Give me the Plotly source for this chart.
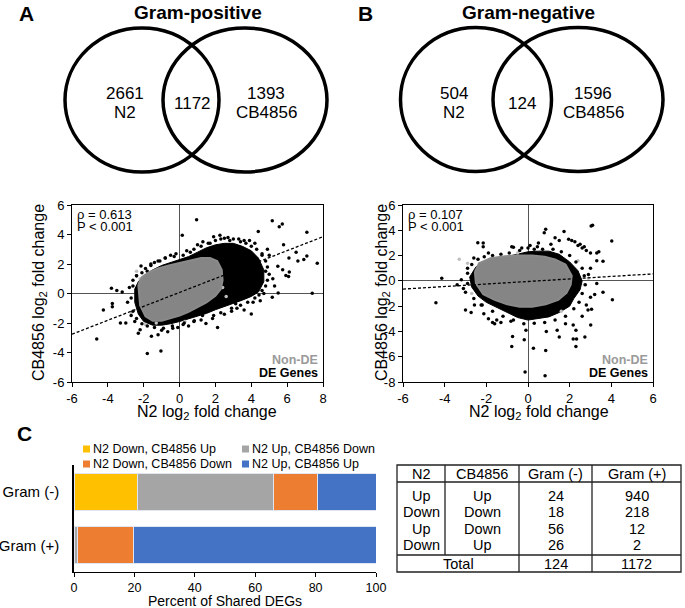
import plotly.graph_objects as go

W, H = 685, 608
FONT = "Liberation Sans, Arial, Helvetica, sans-serif"

# ---------------- data ----------------
# Venn diagrams
venn_panels = ["A", "B"]
venn_titles = ["Gram-positive", "Gram-negative"]
venn_n2_only = [2661, 504]
venn_shared = [1172, 124]
venn_cb_only = [1393, 1596]

# Scatter A (Gram-positive)
a_rho, a_p = "0.613", "P < 0.001"
a_de_cloud_x = [-2.5, -2.3, -2.0, -1.5, -1.0, -0.5, 0.0, 0.5, 1.0, 1.5, 2.0, 2.5, 3.0, 3.5, 4.0, 4.4, 4.7, 4.7, 4.4, 4.0, 3.5, 3.0, 2.5, 2.0, 1.5, 1.0, 0.5, 0.0, -0.5, -1.0, -1.5, -2.0, -2.3, -2.5]
a_de_cloud_y = [0.3, 0.8, 1.2, 1.6, 1.9, 2.1, 2.3, 2.5, 2.8, 3.1, 3.3, 3.4, 3.4, 3.2, 2.9, 2.4, 1.6, 0.8, 0.1, -0.2, -0.45, -0.65, -0.9, -1.1, -1.35, -1.55, -1.75, -1.9, -2.05, -2.15, -2.15, -1.9, -1.4, -0.6]
a_non_cloud_x = [-2.3, -2.1, -1.7, -1.2, -0.6, 0.0, 0.6, 1.2, 1.7, 2.1, 2.35, 2.4, 2.3, 2.0, 1.5, 1.0, 0.5, 0.0, -0.5, -1.0, -1.5, -1.9, -2.2]
a_non_cloud_y = [0.6, 1.1, 1.45, 1.7, 1.9, 2.05, 2.2, 2.4, 2.4, 2.2, 1.6, 0.9, 0.3, -0.15, -0.6, -0.95, -1.25, -1.5, -1.7, -1.85, -1.85, -1.55, -0.8]
a_de_x = [0.95, 5.17, 5.73, 5.56, 7.1, 4.39, 7.68, 6.93, 6.6, 7.1, 6.1, 5.48, 5.75, 6.12, 5.93, 6.08, 7.4, 5.5, -2.15, -3.8, -3.5, -3.2, 0.15, 2.25, 1.9, 2.5,
          -4.62, -1.8, -1.04, -4.25, -3.75, -3.75, -3.3, -3.0, -2.2, -2.3, -1.57, -1.2, -0.66, -0.38, 0.26, 0.82, 1.28, 1.84, 2.12, 1.47, 3.6, 4.0, 2.76, 3.13,
          4.43, 4.7, 5.17, 4.9, 5.0, 4.8, 4.9, 5.2, 3.3, 2.8, 1.2, 0.6, -0.3, -1.2, -1.8, -2.6, -2.8, -2.9, -2.7, -2.5, 0.5, -0.1, 2.5, 3.2, 4.5, 5.8, 6.5, 3.9, -1.0,
          4.2, 4.6, 3.6, 1.6, -0.8, -1.6, -2.4, 2.9, 4.1, 5.3,
          -2.6, -2.4, -2.1, -1.9, -1.6, -1.4, -1.1, -0.8, -0.5, -0.2, 0.2, 0.4, 0.8, 1.0, 1.3, 1.7, 2.0, 2.3, 2.7, 3.0, 3.4, 3.7, 4.0, 4.3, 4.6, 4.8,
          4.9, 5.0, 4.8, 4.6, 4.2, 3.8, 3.4, 2.9, 2.3, 1.9, 1.2, 0.8, 0.2, -0.4, -0.9, -1.4, -1.8, -2.1, -2.4, -2.6, -2.7]
a_de_y = [5.0, 4.94, 4.71, 4.53, 4.15, 4.2, 2.05, 2.3, 2.2, 2.55, 2.4, 1.84, 1.61, 1.45, 1.22, 1.16, 0.02, 0.03, 1.86, 0.35, 0.2, 0.1, 3.95, 3.95, 3.85, 3.75,
          -3.08, -4.06, -3.9, -1.12, -0.67, -0.9, -2.0, -2.0, -2.45, -2.7, -2.9, -2.8, -2.6, -2.35, -2.0, -1.85, -1.5, -1.7, -2.3, -2.03, -1.12, -1.39, -0.45, -0.7,
          -0.1, 0.0, -0.25, 3.0, 2.6, 1.5, 0.9, 1.0, 3.7, 3.6, 3.2, 2.8, 2.5, 2.2, 1.5, 0.9, 0.4, -0.6, -1.5, -1.9, -2.2, -2.3, -1.4, -1.0, -0.5, 3.3, 2.8, 3.6, -2.5,
          3.4, 2.7, 3.6, 3.4, 2.4, 2.0, 1.2, -1.2, -0.6, 0.5,
          0.5, 1.2, 1.4, 1.7, 1.9, 2.1, 2.2, 2.4, 2.6, 2.7, 2.6, 2.9, 3.0, 3.3, 3.5, 3.4, 3.6, 3.7, 3.8, 3.7, 3.5, 3.4, 3.2, 3.0, 2.6, 2.2,
          1.8, 1.3, 0.5, 0.2, -0.3, -0.6, -0.8, -1.0, -1.3, -1.5, -1.8, -1.9, -2.1, -2.2, -2.35, -2.3, -2.2, -2.05, -1.7, -1.2, -0.3]
a_light_x = [-2.4, -2.7, -1.9, -2.2, 2.4, 2.6, -1.3, 0.3]
a_light_y = [1.5, -1.3, -2.1, 1.0, 0.4, -0.2, -2.0, -1.9]
a_fit_x = [-6, 8]
a_fit_y = [-2.76, 3.85]

# Scatter B (Gram-negative)
b_rho, b_p = "0.107", "P < 0.001"
b_de_cloud_x = [-2.8, -2.5, -2.0, -1.5, -1.0, -0.5, 0.0, 0.5, 1.0, 1.5, 2.0, 2.4, 2.6, 2.5, 2.2, 2.0, 1.5, 1.0, 0.5, 0.0, -0.5, -1.0, -1.5, -2.0, -2.4, -2.7]
b_de_cloud_y = [0.3, 1.1, 1.55, 1.75, 1.9, 2.1, 2.3, 2.35, 2.35, 2.1, 1.5, 0.8, 0.0, -0.7, -1.4, -2.0, -2.5, -2.85, -3.0, -3.1, -2.9, -2.5, -2.1, -1.7, -1.2, -0.5]
b_non_cloud_x = [-2.55, -2.35, -1.8, -1.1, -0.5, 0.2, 0.8, 1.3, 1.8, 2.1, 2.05, 1.85, 1.45, 0.85, 0.2, -0.4, -1.0, -1.6, -2.15, -2.5]
b_non_cloud_y = [0.7, 1.4, 1.8, 1.95, 2.0, 2.0, 1.9, 1.7, 1.3, 0.4, -0.3, -0.95, -1.5, -1.85, -2.05, -2.05, -1.85, -1.5, -1.05, -0.2]
b_de_x = [3.03, 3.1, 4.02, 0.85, 0.78, 1.73, 1.3, 1.5, 1.95, 2.1, 2.25, 2.4, 2.5, 2.7, 2.8, 2.6, 3.0, 3.4, 3.3, -2.41, -2.15, -2.15, -4.14, -3.2, -0.78, -0.7,
          0.5, 0.45, -4.42, -3.0, -2.73, -2.57, -2.25, -2.12, -1.3, -0.82, -0.74, -0.18, -0.1, -0.78, -0.14, 0.26, 0.85, 0.82, 1.5, 2.17, 2.33, 2.73, 2.3,
          3.01, 3.2, 3.6, 4.05, 3.05, 2.6, 2.88, 2.3, 2.17, 1.4, 0.88, 1.8, -1.9, -1.7, -1.5, -1.6, 3.6, 3.3, 3.0, 2.9, 3.3, 3.0, 2.8,
          -3.4, -3.1, -2.9, 0.1, -0.3, 1.1, -1.9, -2.6,
          -2.9, -2.9, -3.0, -2.7, -2.4, -2.1, -1.7, -1.3, -0.9, -0.4, 0.0, 0.3, 0.7, 1.2, 1.6, 2.0, 2.3, 2.6, 2.7, 2.75, 2.6, 2.45, 2.2,
          1.8, 1.3, 0.8, 0.3, -0.2, -0.7, -1.2, -1.7, -2.2, -2.6]
b_de_y = [4.34, 4.4, 3.15, 4.08, 3.81, 3.9, 3.4, 3.2, 3.3, 3.2, 3.1, 2.8, 2.9, 2.7, 2.4, 2.6, 2.2, 2.3, 2.2, 3.02, 3.0, 2.7, 0.2, 0.08, 2.7, 2.65,
          3.0, 2.7, -1.73, -2.3, -2.5, -1.9, -1.9, -2.6, -3.3, -3.2, -4.4, -4.65, -3.9, -5.2, -7.2, -5.34, -5.5, -7.5, -4.45, -4.6, -4.6, -4.45, -5.2,
          -3.5, -1.07, -0.9, -1.5, -2.25, -2.8, -2.3, -3.9, -3.5, -3.9, -4.0, -3.4, -3.0, -3.3, -3.1, -3.4, 1.55, 1.6, 1.0, 0.5, -0.2, -1.3, -1.9,
          -0.3, -0.6, 1.0, 2.8, 2.6, 2.9, 2.2, 1.8,
          0.6, -0.2, -0.9, 1.3, 1.7, 1.9, 2.0, 2.1, 2.2, 2.4, 2.6, 2.5, 2.5, 2.5, 2.3, 2.0, 1.5, 1.0, 0.4, -0.3, -1.0, -1.7, -2.2,
          -2.8, -3.1, -3.3, -3.35, -3.4, -3.1, -2.8, -2.4, -1.9, -1.4]
b_light_x = [-3.3, -2.9, 2.9, 2.7, -2.7, 2.4, -0.5, 1.6]
b_light_y = [1.7, 1.4, 0.2, -0.3, -1.0, 1.6, 2.2, -2.4]
b_fit_x = [-6, 6]
b_fit_y = [-0.65, 0.55]

x_ticks_a = [-6, -4, -2, 0, 2, 4, 6, 8]
y_ticks_a = [-6, -4, -2, 0, 2, 4, 6]
x_ticks_b = [-6, -4, -2, 0, 2, 4, 6]
y_ticks_b = [-8, -6, -4, -2, 0, 2, 4, 6]

# Panel C: shared DEG table
tbl_n2 = ["Up", "Down", "Up", "Down"]
tbl_cb = ["Up", "Down", "Down", "Up"]
tbl_gneg = [24, 18, 56, 26]
tbl_gpos = [940, 218, 12, 2]
tbl_header = ["N2", "CB4856", "Gram (-)", "Gram (+)"]

bar_groups = ["Gram (+)", "Gram (-)"]
# stacking order (left to right): N2 Down/CB Up, N2 Up/CB Down, N2 Down/CB Down, N2 Up/CB Up
bar_series = ["N2 Down, CB4856 Up", "N2 Up, CB4856 Down", "N2 Down, CB4856 Down", "N2 Up, CB4856 Up"]
bar_row_index = [3, 2, 1, 0]   # row of the table used for each series
bar_colors = ["#FFC000", "#A5A5A5", "#ED7D31", "#4472C4"]
bar_ticks = [0, 20, 40, 60, 80, 100]

# ---------------- helpers ----------------
def PX(x):
    return x / W

def PY(y):
    return 1 - y / H

annotations = []
shapes = []

def ann(x, y, text, size, bold=False, color="black", xanchor="center", yanchor="middle", angle=0):
    if bold:
        text = "<b>" + text + "</b>"
    annotations.append(dict(x=PX(x), y=PY(y), xref="paper", yref="paper", text=text,
                            showarrow=False, xanchor=xanchor, yanchor=yanchor, textangle=angle,
                            borderpad=0,
                            font=dict(family=FONT, size=size, color=color)))

fig = go.Figure()

# ---------------- Venn diagrams ----------------
venn_geo = [
    dict(title_x=198, label_x=26, circles=[(142, 100, 77, 72), (245, 100, 82, 72)],
         left_x=125, mid_x=192, right_x=266),
    dict(title_x=528, label_x=366, circles=[(476, 99.5, 75.5, 72), (578, 99.5, 85, 72)],
         left_x=454, mid_x=522, right_x=593),
]
for i, g in enumerate(venn_geo):
    ann(g["label_x"], 13, venn_panels[i], 21, bold=True)
    ann(g["title_x"], 12, venn_titles[i], 19, bold=True)
    for (cx, cy, rx, ry) in g["circles"]:
        shapes.append(dict(type="circle", xref="paper", yref="paper",
                           x0=PX(cx - rx), x1=PX(cx + rx), y0=PY(cy + ry), y1=PY(cy - ry),
                           line=dict(color="black", width=3.5)))
    ann(g["left_x"], 94, str(venn_n2_only[i]), 17)
    ann(g["left_x"], 113, "N2", 17)
    ann(g["mid_x"], 103.5, str(venn_shared[i]), 17)
    ann(g["right_x"], 94, str(venn_cb_only[i]), 17)
    ann(g["right_x"], 113, "CB4856", 17)

# ---------------- Scatter plots ----------------
def add_scatter(xa, ya, de_cx, de_cy, non_cx, non_cy, light_x, light_y, de_x, de_y, fit_x, fit_y):
    fig.add_trace(go.Scatter(x=de_cx + de_cx[:1], y=de_cy + de_cy[:1], mode="lines", fill="toself",
                             fillcolor="black", line=dict(color="black", width=1),
                             xaxis=xa, yaxis=ya, showlegend=False, hoverinfo="skip"))
    fig.add_trace(go.Scatter(x=light_x, y=light_y, mode="markers",
                             marker=dict(color="#bfbfbf", size=3.5),
                             xaxis=xa, yaxis=ya, showlegend=False))
    fig.add_trace(go.Scatter(x=de_x, y=de_y, mode="markers",
                             marker=dict(color="black", size=3.5),
                             xaxis=xa, yaxis=ya, showlegend=False))
    fig.add_trace(go.Scatter(x=non_cx + non_cx[:1], y=non_cy + non_cy[:1], mode="lines", fill="toself",
                             fillcolor="#858585", line=dict(color="#8a8a8a", width=2),
                             xaxis=xa, yaxis=ya, showlegend=False, hoverinfo="skip"))
    fig.add_trace(go.Scatter(x=fit_x, y=fit_y, mode="lines",
                             line=dict(color="black", width=1.3, dash="3px,2px"),
                             xaxis=xa, yaxis=ya, showlegend=False))

add_scatter("x", "y", a_de_cloud_x, a_de_cloud_y, a_non_cloud_x, a_non_cloud_y,
            a_light_x, a_light_y, a_de_x, a_de_y, a_fit_x, a_fit_y)
add_scatter("x2", "y2", b_de_cloud_x, b_de_cloud_y, b_non_cloud_x, b_non_cloud_y,
            b_light_x, b_light_y, b_de_x, b_de_y, b_fit_x, b_fit_y)

def tick_text(vals):
    return [str(v) for v in vals]

axis_common = dict(showline=True, mirror=True, linecolor="black", linewidth=1,
                   ticks="outside", ticklen=4, tickcolor="black", showgrid=False,
                   zeroline=True, zerolinecolor="#555555", zerolinewidth=1, automargin=False,
                   tickfont=dict(family=FONT, size=13, color="black"))

fig.update_layout(
    xaxis=dict(domain=[PX(72), PX(323)], range=[-6, 8], anchor="y",
               tickvals=x_ticks_a, ticktext=tick_text(x_ticks_a), **axis_common),
    yaxis=dict(domain=[PY(382), PY(205)], range=[-6, 6], anchor="x",
               tickvals=y_ticks_a, ticktext=tick_text(y_ticks_a), **axis_common),
    xaxis2=dict(domain=[PX(403), PX(653)], range=[-6, 6], anchor="y2",
                tickvals=x_ticks_b, ticktext=tick_text(x_ticks_b), **axis_common),
    yaxis2=dict(domain=[PY(382), PY(205)], range=[-8, 6], anchor="x2",
                tickvals=y_ticks_b, ticktext=tick_text(y_ticks_b), **axis_common),
)

for (x0, x1, rho, p, ytx) in [(72, 323, a_rho, a_p, 40), (403, 653, b_rho, b_p, 383)]:
    ann(x0 + 4, 214, "ρ = " + rho, 13, xanchor="left")
    ann(x0 + 4, 227, p, 13, xanchor="left")
    ann(x1 - 4, 360, "Non-DE", 12.5, bold=True, color="#9a9a9a", xanchor="right")
    ann(x1 - 4, 373, "DE Genes", 12.5, bold=True, xanchor="right")
    ann(ytx, 293, "CB4856 log<sub>2</sub> fold change", 16, angle=-90)
ann(207, 412, "N2 log<sub>2</sub> fold change", 16)
ann(539, 412, "N2 log<sub>2</sub> fold change", 16)

# ---------------- Panel C: stacked bars ----------------
ann(25, 433, "C", 21, bold=True)
gneg_total = sum(tbl_gneg)
gpos_total = sum(tbl_gpos)
for s, name in enumerate(bar_series):
    r = bar_row_index[s]
    vals = [100 * tbl_gpos[r] / gpos_total, 100 * tbl_gneg[r] / gneg_total]
    fig.add_trace(go.Bar(x=vals, y=bar_groups, orientation="h", name=name,
                         marker=dict(color=bar_colors[s], line=dict(color="#dfe6f2", width=1)),
                         xaxis="x3", yaxis="y3", showlegend=False))

fig.update_layout(
    barmode="stack", bargap=0.31,
    xaxis3=dict(domain=[PX(74), PX(376)], range=[0, 100], anchor="y3", automargin=False,
                tickvals=bar_ticks, ticktext=[str(v) for v in bar_ticks],
                showline=True, linecolor="black", linewidth=1, ticks="outside", ticklen=4,
                tickcolor="black", showgrid=False, zeroline=False,
                tickfont=dict(family=FONT, size=12.5, color="black")),
    yaxis3=dict(domain=[PY(572), PY(465)], range=[-0.5, 1.5], anchor="x3", automargin=False,
                type="category", categoryorder="array", categoryarray=bar_groups,
                showline=True, linecolor="black", linewidth=1.5, ticks="outside", ticklen=10,
                tickcolor="rgba(0,0,0,0)", showgrid=False, zeroline=False,
                tickfont=dict(family=FONT, size=15, color="black")),
)
ann(225, 601, "Percent of Shared DEGs", 14)

# custom legend (two columns)
leg_pos = [(83, 449), (242, 449), (83, 464), (242, 464)]
for s, name in enumerate(bar_series):
    lx, ly = leg_pos[s]
    shapes.append(dict(type="rect", xref="paper", yref="paper",
                       x0=PX(lx), x1=PX(lx + 7), y0=PY(ly + 3.5), y1=PY(ly - 3.5),
                       fillcolor=bar_colors[s], line=dict(width=0)))
    ann(lx + 9, ly, name, 12.5, xanchor="left")

# ---------------- Panel C: table ----------------
T_L, T_R, T_T, T_HB, T_TT, T_B = 397, 681, 465, 482, 555, 572
col_lines = [445, 519, 592]
col_centers = [421, 482, 555.5, 636.5]
row_y = [495.5, 512, 528.5, 545]
lc = "#222222"
shapes.append(dict(type="rect", xref="paper", yref="paper", x0=PX(T_L), x1=PX(T_R),
                   y0=PY(T_B), y1=PY(T_T), line=dict(color=lc, width=1.3)))
for yl in [T_HB, T_TT]:
    shapes.append(dict(type="line", xref="paper", yref="paper", x0=PX(T_L), x1=PX(T_R),
                       y0=PY(yl), y1=PY(yl), line=dict(color=lc, width=1.3)))
for k, xl in enumerate(col_lines):
    y_end = T_TT if k == 0 else T_B
    shapes.append(dict(type="line", xref="paper", yref="paper", x0=PX(xl), x1=PX(xl),
                       y0=PY(T_T), y1=PY(y_end), line=dict(color=lc, width=1.3)))
for c, h in enumerate(tbl_header):
    ann(col_centers[c], 474, h, 14.5)
for r in range(len(tbl_n2)):
    ann(col_centers[0], row_y[r], tbl_n2[r], 14.5)
    ann(col_centers[1], row_y[r], tbl_cb[r], 14.5)
    ann(col_centers[2], row_y[r], str(tbl_gneg[r]), 14.5)
    ann(col_centers[3], row_y[r], str(tbl_gpos[r]), 14.5)
ann((T_L + col_lines[1]) / 2, 564, "Total", 14.5)
ann(col_centers[2], 564, str(gneg_total), 14.5)
ann(col_centers[3], 564, str(gpos_total), 14.5)

fig.update_layout(
    width=W, height=H, margin=dict(l=0, r=0, t=0, b=0, autoexpand=False),
    paper_bgcolor="white", plot_bgcolor="white",
    font=dict(family=FONT, color="black"),
    annotations=annotations, shapes=shapes, showlegend=False,
)

# remove the browser's default 8px page margin so the figure sits at the window origin
fig.write_html("out.html", config={"displayModeBar": False},
               post_script="document.body.style.margin='0px';document.body.style.overflow='hidden';")
